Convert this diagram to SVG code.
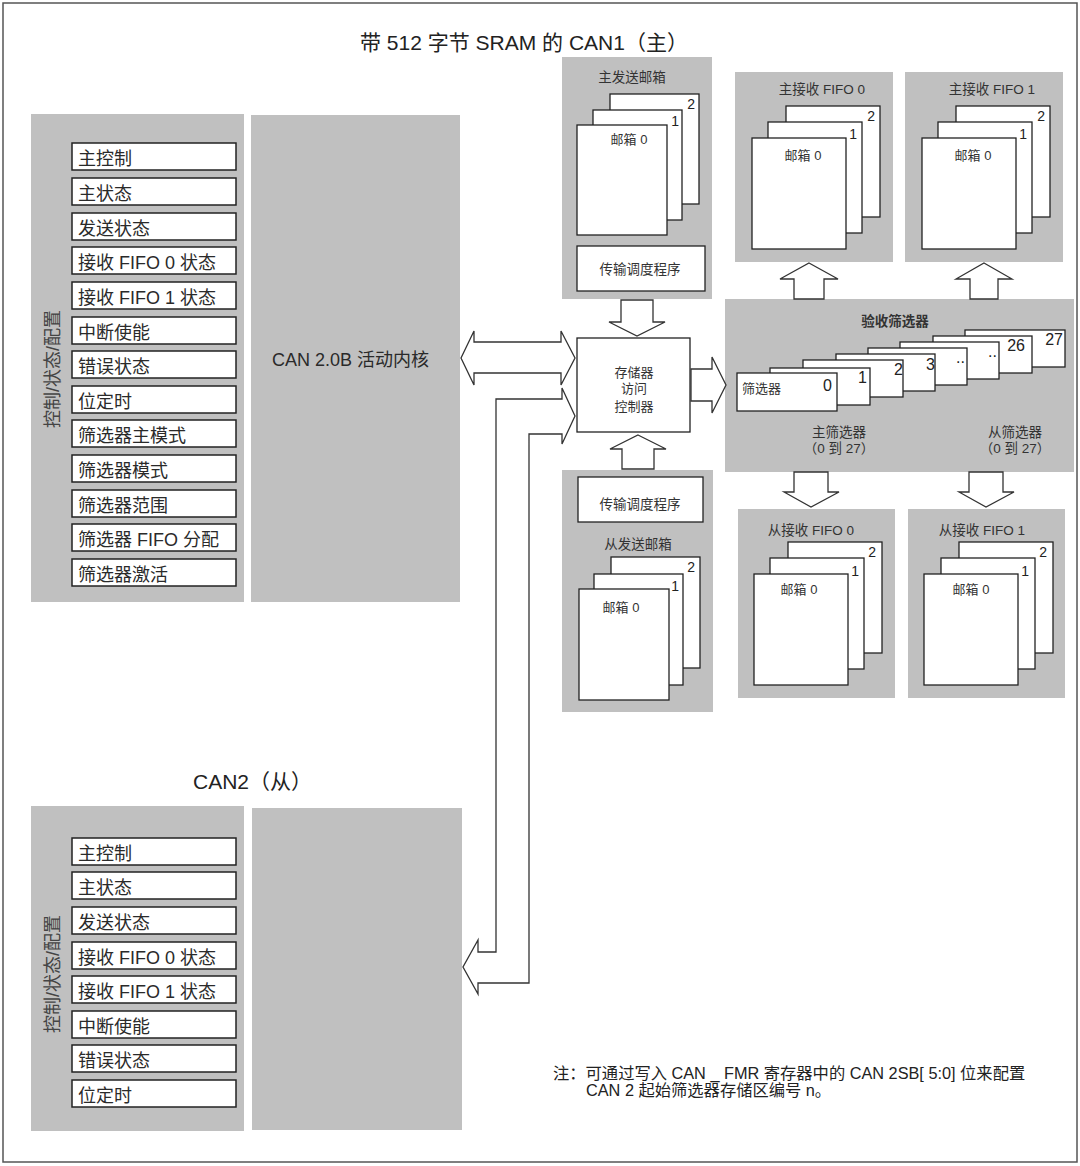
<svg xmlns="http://www.w3.org/2000/svg" width="1080" height="1166" viewBox="0 0 1080 1166">
<style>
text{font-family:"Liberation Sans","Noto Sans CJK SC",sans-serif;fill:#2a2a2a}
.panel{fill:#c0c0c0}
.reg{fill:#fff;stroke:#222;stroke-width:1.5}
.card{fill:#fff;stroke:#222;stroke-width:1.3}
.arrow{fill:#fff;stroke:#333;stroke-width:1.3;stroke-linejoin:miter}
.rl{font-size:18px}
.title{font-size:21px;fill:#222}
.sm{font-size:13.5px;fill:#333}
.mb{font-size:13px;fill:#333}
.num{font-size:14px;text-anchor:end;fill:#222}
.fn{font-size:16px;text-anchor:end;fill:#222}
.mid{text-anchor:middle}
.vert{font-size:18px;fill:#444;text-anchor:middle}
.note{font-size:16.3px;fill:#222}
</style>
<rect x="3" y="3" width="1074" height="1159" fill="#fff" stroke="#555" stroke-width="1.5"/>

<g id="can1-title"><text class="title" x="360" y="50">带 512 字节 SRAM 的 CAN1（主）</text></g>

<g id="can1-regs">
<rect class="panel" x="31" y="114" width="213" height="488"/>
<text class="vert" transform="translate(59,369) rotate(-90)">控制/状态/配置</text>
<rect class="reg" x="72" y="143" width="164" height="27"/><text class="rl" x="78" y="165">主控制</text>
<rect class="reg" x="72" y="178" width="164" height="27"/><text class="rl" x="78" y="200">主状态</text>
<rect class="reg" x="72" y="213" width="164" height="27"/><text class="rl" x="78" y="235">发送状态</text>
<rect class="reg" x="72" y="247" width="164" height="27"/><text class="rl" x="78" y="269">接收 FIFO 0 状态</text>
<rect class="reg" x="72" y="282" width="164" height="27"/><text class="rl" x="78" y="304">接收 FIFO 1 状态</text>
<rect class="reg" x="72" y="317" width="164" height="27"/><text class="rl" x="78" y="339">中断使能</text>
<rect class="reg" x="72" y="351" width="164" height="27"/><text class="rl" x="78" y="373">错误状态</text>
<rect class="reg" x="72" y="386" width="164" height="27"/><text class="rl" x="78" y="408">位定时</text>
<rect class="reg" x="72" y="420" width="164" height="27"/><text class="rl" x="78" y="442">筛选器主模式</text>
<rect class="reg" x="72" y="455" width="164" height="27"/><text class="rl" x="78" y="477">筛选器模式</text>
<rect class="reg" x="72" y="490" width="164" height="27"/><text class="rl" x="78" y="512">筛选器范围</text>
<rect class="reg" x="72" y="524" width="164" height="27"/><text class="rl" x="78" y="546">筛选器 FIFO 分配</text>
<rect class="reg" x="72" y="559" width="164" height="27"/><text class="rl" x="78" y="581">筛选器激活</text>
</g>

<g id="can1-core">
<rect class="panel" x="251" y="115" width="209" height="487"/>
<text class="rl" x="272" y="366">CAN 2.0B 活动内核</text>
</g>

<g id="master-tx-mailbox">
<rect class="panel" x="562" y="57" width="150" height="242"/>
<text class="sm mid" x="632" y="82">主发送邮箱</text>
<rect class="card" x="610" y="94" width="89" height="110"/>
<text class="num" x="695" y="109">2</text>
<rect class="card" x="593" y="110" width="89" height="110"/>
<text class="num" x="679" y="126">1</text>
<rect class="card" x="577" y="125" width="90" height="110"/>
<text class="mb mid" x="629" y="144">邮箱 0</text>
</g>

<g id="master-tx-scheduler">
<rect class="card" x="577" y="246" width="128" height="45"/>
<text class="sm mid" x="640" y="274">传输调度程序</text>
</g>

<g id="master-rx-fifo0">
<rect class="panel" x="735" y="72" width="158" height="190"/>
<text class="sm mid" x="822" y="94">主接收 FIFO 0</text>
<rect class="card" x="786" y="106" width="94" height="111"/>
<text class="num" x="875" y="121">2</text>
<rect class="card" x="768" y="122" width="94" height="111"/>
<text class="num" x="857" y="139">1</text>
<rect class="card" x="752" y="138" width="94" height="111"/>
<text class="mb mid" x="803" y="160">邮箱 0</text>
</g>

<g id="master-rx-fifo1">
<rect class="panel" x="905" y="72" width="158" height="190"/>
<text class="sm mid" x="992" y="94">主接收 FIFO 1</text>
<rect class="card" x="956" y="106" width="94" height="111"/>
<text class="num" x="1045" y="121">2</text>
<rect class="card" x="938" y="122" width="94" height="111"/>
<text class="num" x="1027" y="139">1</text>
<rect class="card" x="922" y="138" width="94" height="111"/>
<text class="mb mid" x="973" y="160">邮箱 0</text>
</g>

<g id="memory-access-controller">
<rect class="card" x="577" y="338" width="113" height="94"/>
<text class="mb mid" x="634" y="377">存储器</text>
<text class="mb mid" x="634" y="393">访问</text>
<text class="mb mid" x="634" y="411">控制器</text>
</g>

<g id="acceptance-filters">
<rect class="panel" x="725" y="299" width="349" height="173"/>
<text class="sm mid" x="895" y="326" font-weight="bold" fill="#111">验收筛选器</text>
<rect class="card" x="965" y="330" width="100" height="37"/>
<text class="fn" x="1063" y="345">27</text>
<rect class="card" x="933" y="336" width="99" height="37"/>
<text class="fn" x="1025" y="351">26</text>
<rect class="card" x="900" y="342" width="99" height="37"/>
<text class="fn" x="997" y="357" font-size="10">..</text>
<rect class="card" x="868" y="348" width="99" height="37"/>
<text class="fn" x="965" y="363" font-size="10">..</text>
<rect class="card" x="836" y="354" width="99" height="37"/>
<text class="fn" x="935" y="370">3</text>
<rect class="card" x="803" y="360" width="100" height="37"/>
<text class="fn" x="903" y="375">2</text>
<rect class="card" x="770" y="368" width="100" height="37"/>
<text class="fn" x="867" y="383">1</text>
<rect class="card" x="737" y="373" width="100" height="38"/>
<text class="fn" x="832" y="391">0</text>
<text class="mb" x="742" y="393">筛选器</text>
<text class="sm mid" x="839" y="437">主筛选器</text>
<text class="sm mid" x="839" y="453">（0 到 27）</text>
<text class="sm mid" x="1015" y="437">从筛选器</text>
<text class="sm mid" x="1015" y="453">（0 到 27）</text>
</g>

<g id="slave-tx-mailbox">
<rect class="panel" x="562" y="470" width="151" height="242"/>
<rect class="card" x="578" y="477" width="125" height="45"/>
<text class="sm mid" x="640" y="509">传输调度程序</text>
<text class="sm mid" x="638" y="549">从发送邮箱</text>
<rect class="card" x="611" y="557" width="89" height="111"/>
<text class="num" x="695" y="572">2</text>
<rect class="card" x="594" y="574" width="89" height="111"/>
<text class="num" x="679" y="591">1</text>
<rect class="card" x="579" y="589" width="90" height="111"/>
<text class="mb mid" x="621" y="612">邮箱 0</text>
</g>

<g id="slave-rx-fifo0">
<rect class="panel" x="738" y="509" width="157" height="189"/>
<text class="sm mid" x="811" y="535">从接收 FIFO 0</text>
<rect class="card" x="788" y="542" width="94" height="111"/>
<text class="num" x="876" y="557">2</text>
<rect class="card" x="770" y="558" width="94" height="111"/>
<text class="num" x="859" y="576">1</text>
<rect class="card" x="754" y="574" width="94" height="111"/>
<text class="mb mid" x="799" y="594">邮箱 0</text>
</g>

<g id="slave-rx-fifo1">
<rect class="panel" x="908" y="509" width="157" height="189"/>
<text class="sm mid" x="982" y="535">从接收 FIFO 1</text>
<rect class="card" x="959" y="542" width="94" height="111"/>
<text class="num" x="1047" y="557">2</text>
<rect class="card" x="941" y="558" width="94" height="111"/>
<text class="num" x="1029" y="576">1</text>
<rect class="card" x="924" y="574" width="94" height="111"/>
<text class="mb mid" x="971" y="594">邮箱 0</text>
</g>

<g id="can2-title"><text class="title" x="193" y="789" font-size="20">CAN2（从）</text></g>

<g id="can2-regs">
<rect class="panel" x="31" y="806" width="213" height="325"/>
<text class="vert" transform="translate(59,974) rotate(-90)">控制/状态/配置</text>
<rect class="reg" x="72" y="838" width="164" height="27"/><text class="rl" x="78" y="860">主控制</text>
<rect class="reg" x="72" y="872" width="164" height="27"/><text class="rl" x="78" y="894">主状态</text>
<rect class="reg" x="72" y="907" width="164" height="27"/><text class="rl" x="78" y="929">发送状态</text>
<rect class="reg" x="72" y="942" width="164" height="27"/><text class="rl" x="78" y="964">接收 FIFO 0 状态</text>
<rect class="reg" x="72" y="976" width="164" height="27"/><text class="rl" x="78" y="998">接收 FIFO 1 状态</text>
<rect class="reg" x="72" y="1011" width="164" height="27"/><text class="rl" x="78" y="1033">中断使能</text>
<rect class="reg" x="72" y="1045" width="164" height="27"/><text class="rl" x="78" y="1067">错误状态</text>
<rect class="reg" x="72" y="1080" width="164" height="27"/><text class="rl" x="78" y="1102">位定时</text>
</g>

<g id="can2-core">
<rect class="panel" x="252" y="808" width="210" height="322"/>
</g>

<g id="connectors">
<polygon class="arrow" points="461,358 474,331 474,342 561,342 561,331 575,358 561,385 561,373 474,373 474,385"/>
<polygon class="arrow" points="575,416 562,388 562,399 496,399 496,952 478,952 478,940 463,967 478,994 478,983 529,983 529,434 562,434 562,444"/>
<polygon class="arrow" points="621,300 653,300 653,322 665,322 637,336 609,322 621,322"/>
<polygon class="arrow" points="638,435 666,449 654,449 654,469 622,469 622,449 610,449"/>
<polygon class="arrow" points="691,369 712,369 712,357 726,385 712,413 712,401 691,401"/>
<polygon class="arrow" points="809,263 838,279 824,279 824,299 794,299 794,279 780,279"/>
<polygon class="arrow" points="984,263 1012,279 998,279 998,299 970,299 970,279 956,279"/>
<polygon class="arrow" points="794,472 828,472 828,492 839,492 811,507 784,492 794,492"/>
<polygon class="arrow" points="969,472 1003,472 1003,492 1014,492 986,507 959,492 969,492"/>
</g>

<g id="note">
<text class="note" x="553" y="1079">注：可通过写入 CAN _ FMR 寄存器中的 CAN 2SB[ 5:0] 位来配置</text>
<text class="note" x="586" y="1096">CAN 2 起始筛选器存储区编号 n。</text>
</g>
</svg>
